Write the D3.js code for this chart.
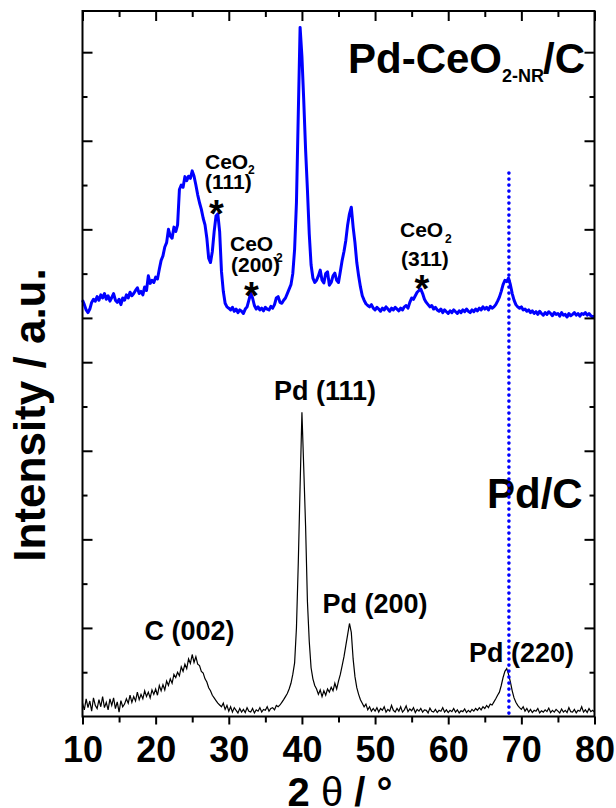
<!DOCTYPE html>
<html><head><meta charset="utf-8">
<script src="https://cdn.jsdelivr.net/npm/d3@7"></script>
<style>body{margin:0;background:#fff}svg{display:block}</style>
</head><body>
<svg id="c" width="616" height="808"></svg>
<script>
// 2θ scan grid (degrees)
const twoThetaStart = 10, twoThetaStep = 0.25;

// Pd-CeO2-NR/C (blue, upper trace) intensity, a.u., one value per 0.25°
const pdCeO2 = [
9.40,9.30,9.18,9.12, 9.20,9.35,9.42,9.38, 9.48,9.40,9.52,9.45, 9.55,9.42,9.50,9.38,
9.46,9.55,9.40,9.35, 9.42,9.30,9.45,9.40, 9.52,9.45,9.58,9.50, 9.55,9.62,9.68,9.55,
9.60,9.52,9.70,9.62, 9.95,9.78,9.85,9.80, 9.92,9.88,10.10,10.30, 10.40,10.60,10.70,11.00,
10.85,10.80,11.05,10.95, 11.10,11.90,12.00,11.95, 12.19,12.10,12.20,12.15, 12.32,12.20,12.00,11.78,
11.60,11.45,11.25,11.10, 10.80,10.35,10.25,10.50, 10.95,11.30,11.35,10.95, 10.05,9.60,9.33,9.25,
9.22,9.18,9.24,9.15, 9.20,9.12,9.18,9.15, 9.10,9.20,9.25,9.40, 9.56,9.45,9.28,9.20,
9.25,9.18,9.22,9.16, 9.24,9.20,9.18,9.26, 9.22,9.30,9.45,9.48, 9.35,9.33,9.40,9.45,
9.55,9.65,9.75,10.00, 10.55,11.60,13.60,15.56, 14.90,13.90,12.80,11.90, 10.90,10.20,9.90,9.80,
9.85,9.95,10.08,9.85, 9.79,10.00,10.04,9.74, 9.80,9.95,10.01,9.85, 9.80,10.05,10.30,10.50,
10.75,11.10,11.35,11.50, 11.05,10.70,10.25,9.95, 9.70,9.50,9.40,9.32, 9.28,9.25,9.30,9.22,
9.18,9.24,9.20,9.15, 9.22,9.18,9.25,9.20, 9.15,9.22,9.18,9.24, 9.20,9.16,9.22,9.18,
9.25,9.28,9.22,9.35, 9.45,9.42,9.50,9.58, 9.62,9.65,9.55,9.42, 9.35,9.30,9.25,9.28,
9.20,9.24,9.18,9.15, 9.20,9.12,9.18,9.14, 9.10,9.16,9.12,9.18, 9.14,9.10,9.16,9.12,
9.18,9.14,9.20,9.15, 9.12,9.18,9.14,9.20, 9.16,9.22,9.18,9.25, 9.20,9.24,9.18,9.26,
9.22,9.25,9.30,9.38, 9.47,9.60,9.75,9.85, 9.82,9.90,9.75,9.55, 9.40,9.30,9.25,9.22,
9.25,9.18,9.20,9.15, 9.18,9.12,9.16,9.10, 9.14,9.08,9.15,9.10, 9.06,9.12,9.08,9.14,
9.10,9.05,9.12,9.08, 9.10,9.04,9.12,9.06, 9.08,9.02,9.10,9.05, 9.08,9.12,9.06,9.10,
9.04,9.10,9.08,9.12, 9.06,9.10,9.05,9.02, 9.04
];

// Pd/C (black, lower trace) intensity, a.u., one value per 0.25°
const pdC = [
0.30,0.15,0.40,0.20, 0.35,0.12,0.42,0.25, 0.18,0.38,0.22,0.45, 0.20,0.32,0.15,0.40,
0.25,0.42,0.18,0.33, 0.10,0.36,0.22,0.28, 0.40,0.30,0.48,0.32, 0.45,0.35,0.55,0.38,
0.50,0.40,0.58,0.45, 0.55,0.42,0.60,0.50, 0.62,0.48,0.70,0.58, 0.72,0.60,0.80,0.70,
0.85,0.75,0.95,0.88, 1.00,0.92,1.12,1.02, 1.18,1.08,1.30,1.20, 1.40,1.22,1.35,1.18,
1.15,1.02,0.98,0.85, 0.78,0.65,0.58,0.48, 0.42,0.36,0.30,0.26, 0.22,0.30,0.16,0.25,
0.12,0.22,0.10,0.20, 0.14,0.08,0.18,0.10, 0.16,0.09,0.20,0.12, 0.10,0.18,0.08,0.15,
0.12,0.20,0.10,0.16, 0.14,0.22,0.12,0.18, 0.20,0.15,0.25,0.22, 0.26,0.32,0.38,0.45,
0.52,0.62,0.75,0.95, 1.21,2.00,3.46,5.20, 6.87,5.60,4.30,2.60, 1.70,1.10,0.85,0.70,
0.62,0.50,0.60,0.45, 0.58,0.48,0.62,0.55, 0.66,0.58,0.75,0.62, 0.80,0.95,1.15,1.35,
1.60,1.85,2.10,1.90, 1.30,0.90,0.65,0.50, 0.38,0.30,0.22,0.28, 0.15,0.22,0.12,0.18,
0.12,0.20,0.10,0.18, 0.14,0.22,0.10,0.16, 0.12,0.25,0.14,0.10, 0.18,0.12,0.22,0.10,
0.15,0.24,0.11,0.17, 0.13,0.20,0.09,0.16, 0.12,0.18,0.10,0.15, 0.14,0.08,0.19,0.12,
0.10,0.16,0.09,0.14, 0.12,0.20,0.10,0.15, 0.09,0.14,0.11,0.18, 0.10,0.15,0.08,0.13,
0.11,0.17,0.09,0.14, 0.10,0.16,0.12,0.18, 0.14,0.20,0.15,0.22, 0.18,0.25,0.20,0.28,
0.26,0.33,0.40,0.48, 0.55,0.70,0.88,1.02, 1.08,0.95,0.78,0.58, 0.42,0.32,0.25,0.20,
0.16,0.22,0.12,0.18, 0.10,0.16,0.09,0.14, 0.12,0.18,0.08,0.13, 0.10,0.15,0.11,0.19,
0.09,0.14,0.10,0.16, 0.12,0.08,0.17,0.10, 0.14,0.09,0.20,0.11, 0.10,0.16,0.08,0.14,
0.12,0.22,0.10,0.15, 0.09,0.18,0.11,0.14, 0.10
];

const xTickLabels = [10, 20, 30, 40, 50, 60, 70, 80];
const xMinorTicks = [15, 25, 35, 45, 55, 65, 75];
const yMajorTicks = [2, 4, 6, 8, 9, 11, 13, 15];
const yMinorTicks = [1, 3, 5, 7, 10, 12, 14];
const refLine = { twoTheta: 68.3, top: 12.27 };

// Pd/C peak annotations: [text, 2θ of label centre, intensity of baseline]
const pdCLabels = [
  ["C (002)", 24.63, 1.73],
  ["Pd (111)", 43.15, 7.14],
  ["Pd (200)", 49.99, 2.34],
  ["Pd (220)", 70.02, 1.23]
];
// CeO2 reflections: [hkl, 2θ of star, intensity of star centre]
const ceO2Labels = [
  ["(111)", 28.3, 11.55],
  ["(200)", 33.1, 9.70],
  ["(311)", 56.4, 9.85]
];

const svg = d3.select("#c");
const x = d3.scaleLinear().domain([10, 80]).range([82.5, 594.5]);
const y = d3.scaleLinear().domain([0, 15.93]).range([716.5, 11]);
const angles = d3.range(pdC.length).map(i => twoThetaStart + i * twoThetaStep);

const FONT = "'Liberation Sans', Arial, sans-serif";

// traces
const line = d3.line().x(d => x(d[0])).y(d => y(d[1]));
svg.append("path").datum(angles.map((a, i) => [a, pdC[i]]))
  .attr("d", line).attr("fill", "none").attr("stroke", "#000")
  .attr("stroke-width", 1.2).attr("stroke-linejoin", "miter");
svg.append("path").datum(angles.map((a, i) => [a, pdCeO2[i]]))
  .attr("d", line).attr("fill", "none").attr("stroke", "#0000ff")
  .attr("stroke-width", 3).attr("stroke-linejoin", "round");

// axes
function styleAxis(g) { g.select(".domain").remove(); g.selectAll("line").attr("stroke", "#000").attr("stroke-width", 2); }
const bottom = svg.append("g").attr("transform", `translate(0,${y(0)})`)
  .call(d3.axisBottom(x).tickValues(xTickLabels).tickSize(8).tickPadding(12).tickFormat(d3.format("d")));
styleAxis(bottom);
bottom.selectAll("text").attr("font-family", FONT).attr("font-weight", "bold")
  .attr("font-size", 36).attr("fill", "#000");
styleAxis(svg.append("g").attr("transform", `translate(0,${y(0)})`)
  .call(d3.axisBottom(x).tickValues(xMinorTicks).tickSize(6).tickFormat("")));
styleAxis(svg.append("g").attr("transform", `translate(0,${y.range()[1]})`)
  .call(d3.axisTop(x).tickValues(xTickLabels).tickSize(-10).tickFormat("")));
styleAxis(svg.append("g").attr("transform", `translate(0,${y.range()[1]})`)
  .call(d3.axisTop(x).tickValues(xMinorTicks).tickSize(-6).tickFormat("")));
[[yMajorTicks, 10], [yMinorTicks, 5]].forEach(([vals, len]) => {
  styleAxis(svg.append("g").attr("transform", `translate(${x(10)},0)`)
    .call(d3.axisLeft(y).tickValues(vals).tickSize(-len).tickFormat("")));
  styleAxis(svg.append("g").attr("transform", `translate(${x(80)},0)`)
    .call(d3.axisRight(y).tickValues(vals).tickSize(-len).tickFormat("")));
});
svg.append("rect").attr("x", x(10)).attr("y", y.range()[1])
  .attr("width", x(80) - x(10)).attr("height", y(0) - y.range()[1])
  .attr("fill", "none").attr("stroke", "#000").attr("stroke-width", 2);

// axis titles
const xt = svg.append("text").attr("x", 340).attr("y", 806).attr("text-anchor", "middle")
  .attr("font-family", FONT).attr("font-size", 40).attr("font-weight", "bold").attr("fill", "#000");
xt.append("tspan").text("2 ");
xt.append("tspan").attr("font-weight", "normal").text("θ");
xt.append("tspan").text(" / °");
svg.append("text").attr("transform", "translate(45,415) rotate(-90)").attr("text-anchor", "middle")
  .attr("font-family", FONT).attr("font-size", 44).attr("font-weight", "bold").attr("fill", "#000")
  .text("Intensity / a.u.");

// sample names
const t1 = svg.append("text").attr("y", 73).attr("font-family", FONT).attr("font-weight", "bold").attr("fill", "#000");
t1.append("tspan").attr("x", 348).attr("font-size", 42).text("Pd-CeO");
t1.append("tspan").attr("x", 502).attr("y", 82).attr("font-size", 18).text("2-NR");
t1.append("tspan").attr("x", 543).attr("y", 73).attr("font-size", 42).text("/C");
svg.append("text").attr("x", 487).attr("y", 508).attr("font-family", FONT).attr("font-weight", "bold")
  .attr("font-size", 42).attr("fill", "#000").text("Pd/C");

// Pd/C peak labels
svg.selectAll(".pl").data(pdCLabels).enter().append("text")
  .attr("x", d => x(d[1])).attr("y", d => y(d[2])).attr("text-anchor", "middle")
  .attr("font-family", FONT).attr("font-weight", "bold").attr("font-size", 27).attr("fill", "#000")
  .text(d => d[0]);

// CeO2 labels (layout offsets in pixels)
const ceo = [
  { cx: 205, cy: 169, sx: 248, sy: 174, hx: 205, hy: 189 },
  { cx: 230, cy: 251, sx: 276, sy: 262, hx: 231, hy: 272 },
  { cx: 400, cy: 237, sx: 445, sy: 243, hx: 401, hy: 266 }
];
ceO2Labels.forEach((d, i) => {
  const p = ceo[i];
  const g = svg.append("g").attr("font-family", FONT).attr("font-weight", "bold").attr("fill", "#000");
  g.append("text").attr("x", p.cx).attr("y", p.cy).attr("font-size", 21).text("CeO");
  g.append("text").attr("x", p.sx).attr("y", p.sy).attr("font-size", 12).text("2");
  g.append("text").attr("x", p.hx).attr("y", p.hy).attr("font-size", 21).text(d[0]);
  g.append("text").attr("x", x(d[1])).attr("y", y(d[2]) + 22).attr("text-anchor", "middle")
    .attr("font-size", 38).text("*");
});

// dotted reference line at Pd (220)
svg.append("line").attr("x1", x(refLine.twoTheta)).attr("x2", x(refLine.twoTheta))
  .attr("y1", y(refLine.top)).attr("y2", y(0))
  .attr("stroke", "#0000ff").attr("stroke-width", 3.6).attr("stroke-linecap", "round")
  .attr("stroke-dasharray", "0 6");
</script>
</body></html>
